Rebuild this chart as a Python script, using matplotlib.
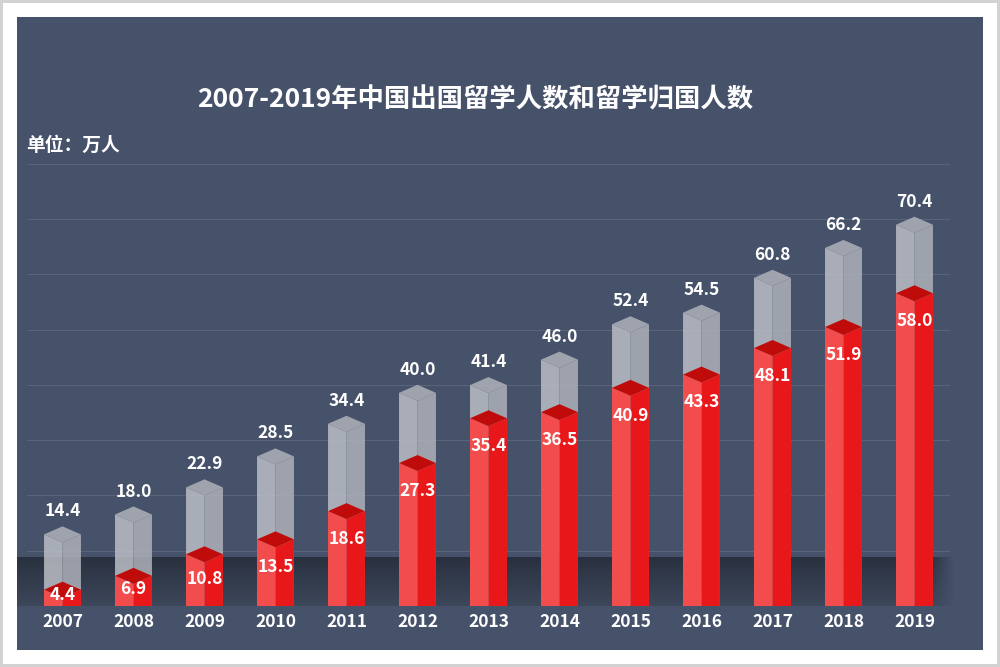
"""2007-2019 China study-abroad vs returnee counts, pseudo-3D bars on a dark panel."""

import matplotlib

matplotlib.use("Agg")
import matplotlib.pyplot as plt  # noqa: E402
import numpy as np  # noqa: E402
from matplotlib.patches import Polygon, Rectangle  # noqa: E402

plt.rcParams["font.family"] = ["Noto Sans CJK SC", "DejaVu Sans"]

years = ["2007", "2008", "2009", "2010", "2011", "2012", "2013",
         "2014", "2015", "2016", "2017", "2018", "2019"]
abroad = [14.4, 18.0, 22.9, 28.5, 34.4, 40.0, 41.4, 46.0, 52.4, 54.5, 60.8, 66.2, 70.4]
returned = [4.4, 6.9, 10.8, 13.5, 18.6, 27.3, 35.4, 36.5, 40.9, 43.3, 48.1, 51.9, 58.0]

TITLE = "2007-2019年中国出国留学人数和留学归国人数"
UNIT = "单位：万人"

PANEL = "#46516a"
GRID = "#5a6479"
GRAY_FACES = ("#bbbec6", "#aeb1ba", "#b0b2ba")  # left, right, top (drawn translucent)
RED_FACES = ("#f24c4c", "#e8181a", "#c00b0b")

HALF_W = 0.26   # half bar width, category units
DEPTH = 1.45    # diamond half-depth, value units


def _box(ax, x, v, faces, alpha=1.0, z=3):
    """Draw a rotated cuboid whose back top vertex sits at value v."""
    left, right, top = faces
    w, d = HALF_W, DEPTH
    polys = [
        ([(x - w, 0), (x, 0), (x, v - 2 * d), (x - w, v - d)], left),
        ([(x, 0), (x + w, 0), (x + w, v - d), (x, v - 2 * d)], right),
        ([(x - w, v - d), (x, v - 2 * d), (x + w, v - d), (x, v)], top),
    ]
    for pts, c in polys:
        ax.add_patch(Polygon(pts, closed=True, facecolor=c, edgecolor="none",
                             alpha=alpha, zorder=z, clip_on=False))


fig = plt.figure(figsize=(10, 6.67), dpi=100)
fig.patch.set_facecolor("#d2d2d2")
fig.add_artist(Rectangle((3 / 1000, 3 / 667), 994 / 1000, 661 / 667,
                         transform=fig.transFigure, facecolor="white",
                         edgecolor="none", zorder=-3))
fig.add_artist(Rectangle((17 / 1000, 17 / 667), 966 / 1000, 633 / 667,
                         transform=fig.transFigure, facecolor=PANEL,
                         edgecolor="none", zorder=-2))

ax = fig.add_axes([27 / 1000, 61 / 667, 923 / 1000, 442.4 / 667])
ax.set_facecolor("none")
ax.set_xlim(-0.5, len(years) - 0.5)
ax.set_ylim(0, 80)
for s in ax.spines.values():
    s.set_visible(False)

# floor shadow band
band_top = 8.86
nx, ny = 400, 60
top_rgb = np.array([0x29, 0x31, 0x40]) / 255
bot_rgb = np.array([0x3d, 0x47, 0x5a]) / 255
t = np.linspace(0, 1, ny)[:, None]
rgb = top_rgb * (1 - t) + bot_rgb * t
img = np.zeros((ny, nx, 4))
img[..., :3] = rgb[:, None, :]
xs = np.linspace(0, 1, nx)
alpha = np.clip((1 - xs) / 0.025, 0, 1)
img[..., 3] = alpha[None, :]
ax.imshow(img, extent=(-0.64, len(years) - 0.5 + 0.07, 0, band_top),
          aspect="auto", origin="upper", zorder=0.5, clip_on=False)

ax.set_yticks(np.arange(0, 81, 10))
ax.yaxis.grid(True, color=GRID, linewidth=0.8, zorder=1)
ax.set_axisbelow(True)
ax.tick_params(axis="y", left=False, labelleft=False)
ax.set_xticks(range(len(years)))
ax.set_xticklabels(years, color="white", fontsize=12.5, fontweight="bold")
ax.tick_params(axis="x", length=0, pad=5)

for i, (a, r) in enumerate(zip(abroad, returned)):
    _box(ax, i, a, GRAY_FACES, alpha=0.85, z=3)
    _box(ax, i, r, RED_FACES, z=4)
    ax.text(i, a + 2.7, f"{a:.1f}", ha="center", va="center", color="white",
            fontsize=12.5, fontweight="bold", zorder=6)
    ax.text(i, max(r - 6.5, r * 0.45), f"{r:.1f}", ha="center", va="center",
            color="white", fontsize=12.5, fontweight="bold", zorder=6)

fig.text(0.475, 1 - 100 / 667, TITLE, ha="center", va="center", color="white",
         fontsize=19, fontweight="bold")
fig.text(0.026, 1 - 145 / 667, UNIT, ha="left", va="center", color="white",
         fontsize=13.5, fontweight="bold")

fig.savefig("out.png", dpi=100, facecolor=fig.get_facecolor())
